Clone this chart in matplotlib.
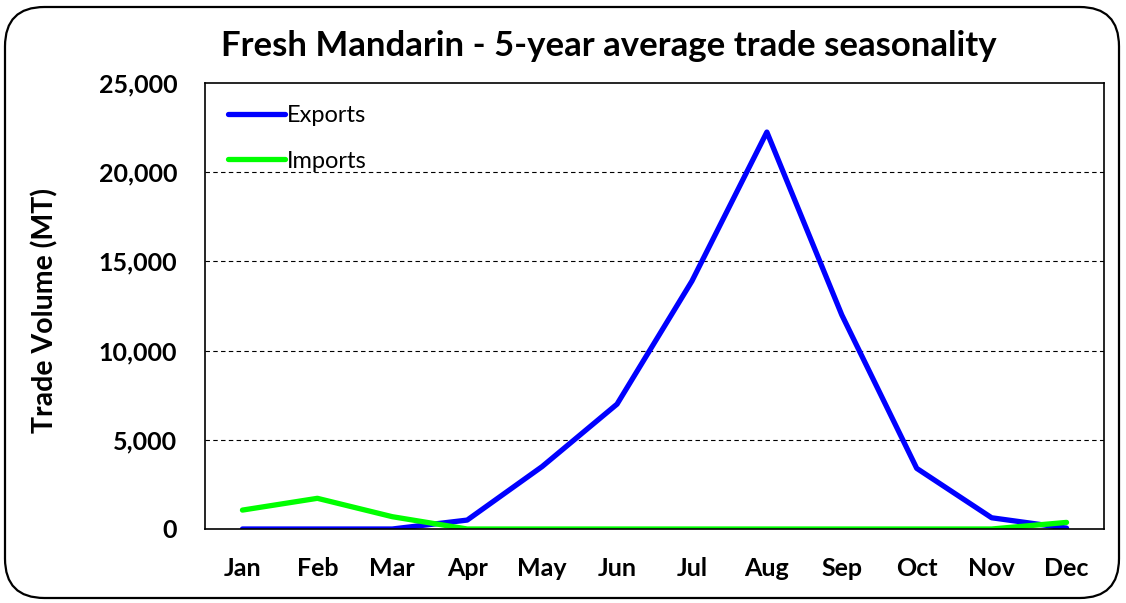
import matplotlib.pyplot as plt
from matplotlib.patches import FancyBboxPatch
from matplotlib.ticker import FuncFormatter

months = ['Jan', 'Feb', 'Mar', 'Apr', 'May', 'Jun',
          'Jul', 'Aug', 'Sep', 'Oct', 'Nov', 'Dec']
exports = [0, 0, 0, 500, 3500, 7000, 13900, 22250, 12000, 3400, 630, 50]
imports = [1060, 1720, 690, 0, 0, 0, 0, 0, 0, 0, 0, 370]

plt.rcParams['font.family'] = ['Lato', 'DejaVu Sans']

fig = plt.figure(figsize=(11.26, 6.03), dpi=100)
ax = fig.add_axes([205 / 1126, 1 - 529 / 603, 899 / 1126, 446 / 603])

x = range(len(months))
ax.plot(x, exports, color='#0000ff', lw=3.8, label='Exports', solid_capstyle='round')
ax.plot(x, imports, color='#00ff00', lw=3.8, label='Imports', solid_capstyle='round')

ax.set_xlim(-0.5, 11.5)
ax.set_ylim(0, 25000)
ax.set_yticks(range(0, 25001, 5000))
ax.yaxis.set_major_formatter(FuncFormatter(lambda v, p: f'{int(v):,}'))
ax.set_xticks(list(x))
ax.set_xticklabels(months)
ax.tick_params(length=0, labelsize=18)
for lab in ax.get_xticklabels() + ax.get_yticklabels():
    lab.set_fontweight('bold')
ax.tick_params(axis='y', pad=20)
ax.tick_params(axis='x', pad=20)

for v in range(5000, 25000, 5000):
    ax.axhline(v, color='black', lw=0.8, ls=(0, (4, 3)), zorder=0)
for s in ax.spines.values():
    s.set_linewidth(1.2)

ax.set_ylabel('Trade Volume (MT)', fontsize=20.5, fontweight='bold')
ax.yaxis.label.set_va('center')
ax.yaxis.set_label_coords(-0.178, 0.49)

ax.legend(loc='upper left', frameon=False, fontsize=17, handlelength=2.4,
          handletextpad=0.1, labelspacing=1.05, borderaxespad=0, borderpad=0,
          bbox_to_anchor=(0.0256, 0.951))

fig.text(0.541, 0.924, 'Fresh Mandarin - 5-year average trade seasonality',
         ha='center', va='center', fontsize=25, fontweight='bold')

border = FancyBboxPatch((5 / 1126, 5 / 603), 1114 / 1126, 591 / 603,
                        boxstyle='round,pad=0,rounding_size=0.035',
                        transform=fig.transFigure, fill=False,
                        edgecolor='black', lw=1.6, mutation_aspect=1126 / 603)
fig.patches.append(border)

fig.savefig('out.png', dpi=100)
